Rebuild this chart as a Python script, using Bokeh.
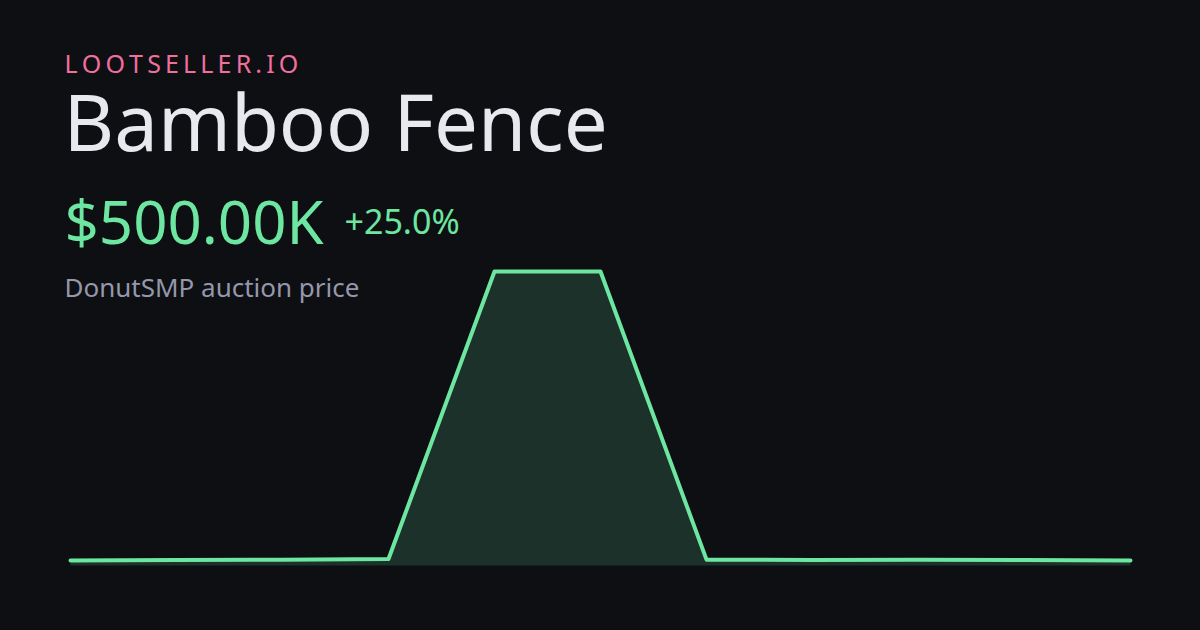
from bokeh.plotting import figure
from bokeh.models import Label, Range1d
from bokeh.embed import file_html
from bokeh.resources import INLINE

# ---- data ----
points = list(range(11))
prices_k = [400.0, 400.2, 400.3, 400.5, 500.0, 500.0, 400.3, 400.2, 400.3, 400.2, 400.0]
brand = "LOOTSELLER.IO"
item_name = "Bamboo Fence"
price_label = "$500.00K"
change_label = "+25.0%"
subtitle = "DonutSMP auction price"

BG = "#0d0f12"
GREEN = "#6de6a2"
PINK = "#ef6f9f"
WHITE = "#e8e9ee"
GRAY = "#9597aa"
FONT = "Noto Sans"

W, H = 1200, 630

# layout of plot area in page pixels
x_left_px, x_right_px = 70, 1130
y_top_px, y_base_px, fill_bottom_px = 271, 560, 565

n = len(points)
px_per_x = (x_right_px - x_left_px) / (n - 1)
x0 = points[0] - x_left_px / px_per_x
x1 = x0 + W / px_per_x

ymin, ymax = min(prices_k), max(prices_k)
px_per_y = (y_base_px - y_top_px) / (ymax - ymin)
y_top = ymax + y_top_px / px_per_y
y_bot = ymin - (H - y_base_px) / px_per_y
fill_base = ymin - (fill_bottom_px - y_base_px) / px_per_y

p = figure(width=W, height=H, output_backend="svg", toolbar_location=None,
           x_range=Range1d(x0, x1), y_range=Range1d(y_bot, y_top),
           min_border=0, min_border_left=0, min_border_right=0,
           min_border_top=0, min_border_bottom=0)
p.xaxis.visible = False
p.yaxis.visible = False
p.grid.visible = False
p.outline_line_color = None
p.background_fill_color = BG
p.border_fill_color = BG

p.varea(x=points, y1=[fill_base] * n, y2=prices_k, fill_color=GREEN, fill_alpha=0.16)
p.line(points, prices_k, line_color=GREEN, line_width=4, line_cap="round", line_join="round")

def lab(text, x, y_page, size, color):
    # compensate renderer's baseline offset (~0.41 em)
    y_adj = y_page - 0.41 * size
    p.add_layout(Label(x=x, y=H - y_adj, x_units="screen", y_units="screen",
                       text=text, text_font=FONT, text_font_size=f"{size}px",
                       text_color=color, text_baseline="alphabetic", text_align="left"))

spaced = "\u2009".join(list(brand))
lab(spaced, 64, 73, 25, PINK)
lab(item_name, 63, 152, 78, WHITE)
lab(price_label, 64, 245, 60, GREEN)
lab(change_label, 344, 234, 34, GREEN)
lab(subtitle, 64, 297, 26, GRAY)

template = """
{% block postamble %}
<style>html, body { margin: 0 !important; padding: 0; background: #0d0f12; overflow: hidden; }</style>
{% endblock %}
"""

open("out.html", "w").write(file_html(p, INLINE, title="Bamboo Fence", template=template))
